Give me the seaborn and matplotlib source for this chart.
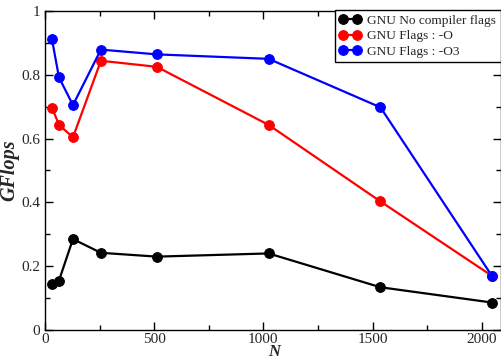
import numpy as np
import pandas as pd
import matplotlib
matplotlib.use('Agg')
import matplotlib.pyplot as plt
from matplotlib.ticker import MultipleLocator
import seaborn as sns

## Data
n_values = [32, 64, 128, 256, 512, 1024, 1536, 2048]
no_flags = [0.143, 0.155, 0.285, 0.242, 0.230, 0.240, 0.134, 0.086]
flags_o = [0.697, 0.643, 0.604, 0.844, 0.825, 0.643, 0.403, 0.169]
flags_o3 = [0.911, 0.792, 0.705, 0.879, 0.864, 0.850, 0.698, 0.168]

series_names = ['GNU No compiler flags', 'GNU Flags : -O', 'GNU Flags : -O3']
series_colors = ['black', 'red', 'blue']

sns.set_style('ticks')
plt.rcParams['font.family'] = ['Liberation Serif', 'DejaVu Serif']

fig = plt.figure(figsize=(5.02, 3.59), dpi=100)
ax = fig.add_axes([45 / 502, 29 / 359, 456 / 502, 319 / 359])

for name, vals, col in zip(series_names, [no_flags, flags_o, flags_o3], series_colors):
    df = pd.DataFrame({'N': n_values, 'GFlops': vals})
    sns.lineplot(data=df, x='N', y='GFlops', ax=ax, color=col, marker='o',
                 markersize=7, markeredgecolor=col, linewidth=1.6, label=name)

ax.set_xlim(0, 2088)
ax.set_ylim(0, 1)
ax.xaxis.set_major_locator(MultipleLocator(500))
ax.xaxis.set_minor_locator(MultipleLocator(250))
ax.yaxis.set_minor_locator(MultipleLocator(0.1))
ax.set_yticks([0, 0.2, 0.4, 0.6, 0.8, 1.0])
ax.set_yticklabels(['0', '0.2', '0.4', '0.6', '0.8', '1'])
ax.tick_params(which='both', direction='in', top=True, right=True,
               labelsize=11, color='black', width=1)
ax.tick_params(axis='x', pad=2)
ax.tick_params(which='major', length=6)
ax.tick_params(which='minor', length=3.5)
for s in ax.spines.values():
    s.set_color('black')
    s.set_linewidth(1)

## axis labels placed where the reference has them
ax.set_xlabel('N', fontsize=12, fontweight='bold', fontstyle='italic')
ax.set_ylabel('GFlops', fontsize=14.5, fontweight='bold', fontstyle='italic')
ax.xaxis.label.set_verticalalignment('baseline')
ax.xaxis.set_label_coords((274 - 45) / 456, (330 - 356) / 319)
ax.yaxis.set_label_coords(-0.057, 0.5)

leg = ax.legend(loc='upper right', bbox_to_anchor=(1.0, 1.003), numpoints=2,
                fontsize=9.6, fancybox=False, framealpha=1, edgecolor='black',
                borderpad=0.35, labelspacing=0.22, handlelength=1.6,
                handletextpad=0.5, borderaxespad=0)
leg.get_frame().set_linewidth(1)

fig.savefig('out.png', dpi=100)
